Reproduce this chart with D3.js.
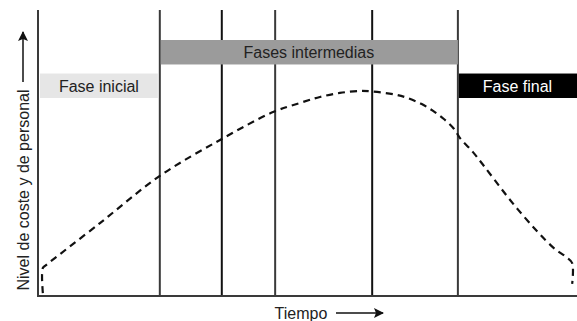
<!DOCTYPE html>
<html>
<head>
<meta charset="utf-8">
<script src="https://cdn.jsdelivr.net/npm/d3@7"></script>
<style>
  body { margin: 0; background: #fff; }
  svg { display: block; font-family: "Liberation Sans", Arial, sans-serif; }
</style>
</head>
<body>
<div id="chart-area"></div>
<script>
// data
var phaseNames = ["Fase inicial", "Fases intermedias", "Fase final"];
var phaseStart = [0, 22.6, 77.9];
var phaseEnd = [22.6, 77.9, 100];
var phaseRow = [1, 0, 1];

var milestones = [22.6, 34.1, 44.0, 62.0, 77.9];

var curveTime  = [0.9, 0.9, 1.5, 11.5, 22.6, 34.1, 43.6, 48.6, 52.3, 56.0, 59.7, 62.0, 66.6, 68.6, 71.2, 73.3, 75.3, 77.2, 78.3, 80.7, 89.1, 95.5, 98.0, 99.1, 99.1];
var curveLevel = [1.0, 9.8, 10.8, 25.5, 42.0, 54.9, 64.3, 67.5, 69.6, 71.0, 71.7, 71.5, 70.3, 69.2, 67.1, 64.7, 61.9, 58.4, 55.2, 50.3, 30.1, 17.1, 13.6, 11.5, 4.2];

var xLabel = "Tiempo";
var yLabel = "Nivel de coste y de personal";

// size
var W = 577, H = 321;

var x = d3.scaleLinear().domain([0, 100]).range([38, 577]);
var y = d3.scaleLinear().domain([0, 100]).range([296, 10]);
var row = d3.scaleBand().domain([0, 1]).range([40, 98]).paddingInner(0.27);

var svg = d3.select("#chart-area")
    .append("svg")
    .attr("width", W)
    .attr("height", H);

svg.append("defs").append("marker")
    .attr("id", "head")
    .attr("viewBox", "0 0 10 10")
    .attr("refX", 9).attr("refY", 5)
    .attr("markerWidth", 10).attr("markerHeight", 10)
    .attr("markerUnits", "userSpaceOnUse")
    .attr("orient", "auto")
    .append("path")
    .attr("d", "M0,0L10,5L0,10L2,5Z")
    .attr("fill", "#111");

// vertical phase lines
svg.selectAll(".ms")
    .data(milestones)
    .enter().append("line")
    .attr("class", "ms")
    .attr("x1", d => x(d)).attr("x2", d => x(d))
    .attr("y1", y(100)).attr("y2", y(0))
    .attr("stroke", (d, i) => (i == 1 || i == 3) ? "#111" : "#3a3a3a")
    .attr("stroke-width", 2);

// phase bars
var phases = phaseNames.map((n, i) => ({name: n, s: phaseStart[i], e: phaseEnd[i], r: phaseRow[i], i: i}));
var fills = ["#e6e6e6", "#9b9b9b", "#000"];
var inks = ["#222", "#222", "#fff"];

svg.selectAll(".ph")
    .data(phases)
    .enter().append("rect")
    .attr("class", "ph")
    .attr("x", d => x(d.s) + (d.i == 0 ? 2 : 1))
    .attr("width", d => x(d.e) - x(d.s) - (d.i == 0 ? 4 : 1))
    .attr("y", d => row(d.r))
    .attr("height", row.bandwidth())
    .attr("fill", (d, i) => fills[i]);

svg.selectAll(".phl")
    .data(phases)
    .enter().append("text")
    .attr("class", "phl")
    .attr("x", d => (x(d.s) + x(d.e)) / 2 + (d.i == 2 ? 0 : 0))
    .attr("y", d => row(d.r) + row.bandwidth() / 2)
    .attr("dy", "0.36em")
    .attr("text-anchor", "middle")
    .attr("font-size", 16)
    .attr("fill", (d, i) => inks[i])
    .text(d => d.name);

// axes
svg.append("line")
    .attr("x1", x(0)).attr("x2", x(0))
    .attr("y1", y(100)).attr("y2", y(0) + 1)
    .attr("stroke", "#3a3a3a").attr("stroke-width", 2);
svg.append("line")
    .attr("x1", x(0) - 1).attr("x2", x(100))
    .attr("y1", y(0)).attr("y2", y(0))
    .attr("stroke", "#3a3a3a").attr("stroke-width", 2);

// cost curve
var line = d3.line()
    .x((d, i) => x(curveTime[i]))
    .y(d => y(d))
    .curve(d3.curveCatmullRom.alpha(0.5));

svg.append("path")
    .datum(curveLevel)
    .attr("d", line)
    .attr("fill", "none")
    .attr("stroke", "#111")
    .attr("stroke-width", 2.2)
    .attr("stroke-dasharray", "7,5");

// labels
svg.append("text")
    .attr("x", 301).attr("y", 313)
    .attr("dy", "0.36em")
    .attr("text-anchor", "middle")
    .attr("font-size", 16)
    .attr("fill", "#222")
    .text(xLabel);
svg.append("line")
    .attr("x1", 336).attr("x2", 383)
    .attr("y1", 313).attr("y2", 313)
    .attr("stroke", "#111").attr("stroke-width", 1.5)
    .attr("marker-end", "url(#head)");

svg.append("text")
    .attr("transform", "translate(23,190) rotate(-90)")
    .attr("dy", "0.36em")
    .attr("text-anchor", "middle")
    .attr("font-size", 16)
    .attr("fill", "#222")
    .text(yLabel);
svg.append("line")
    .attr("x1", 23).attr("x2", 23)
    .attr("y1", 82).attr("y2", 32)
    .attr("stroke", "#111").attr("stroke-width", 1.5)
    .attr("marker-end", "url(#head)");
</script>
</body>
</html>
